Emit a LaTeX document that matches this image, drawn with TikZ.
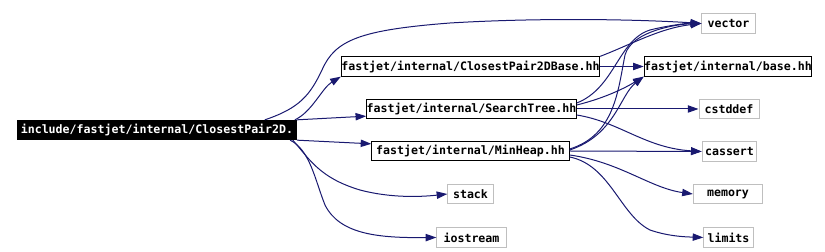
\documentclass[tikz,border=0pt]{standalone}
\usepackage{fontspec}
\setmonofont{DejaVu Sans Mono}
\usetikzlibrary{arrows.meta}
\definecolor{edgeblue}{HTML}{191970}
\definecolor{sysgray}{HTML}{BFBFBF}
\tikzset{
  file/.style={draw, line width=0.75pt, inner sep=0pt, minimum height=14.5pt,
    font=\ttfamily\bfseries\fontsize{8.7}{10}\selectfont},
  rootfile/.style={file, fill=black, text=white},
  incfile/.style={file, draw=black},
  sysfile/.style={file, draw=sysgray},
  dep/.style={draw=edgeblue, line width=0.75pt, -{Triangle[length=8pt,width=5.5pt]}, edgeblue}
}
\begin{document}
\begin{tikzpicture}[x=0.75pt, y=-0.75pt]
\useasboundingbox (0,0) rectangle (825,252);
% the files
\node[rootfile, minimum width=209pt] (root) at (157,130) {include/fastjet/internal/ClosestPair2D.};
\node[incfile, minimum width=191pt] (cpbase) at (470.5,66.5) {fastjet/internal/ClosestPair2DBase.hh};
\node[incfile, minimum width=155pt] (stree) at (471.5,109) {fastjet/internal/SearchTree.hh};
\node[incfile, minimum width=148pt] (minheap) at (470.5,151) {fastjet/internal/MinHeap.hh};
\node[incfile, minimum width=121pt] (base) at (728,66.5) {fastjet/internal/base.hh};
\node[sysfile, minimum width=40pt] (vector) at (728.5,23.5) {vector};
\node[sysfile, minimum width=45pt] (cstddef) at (729,109) {cstddef};
\node[sysfile, minimum width=41pt] (cassert) at (729.5,151.5) {cassert};
\node[sysfile, minimum width=52pt] (memory) at (728,194) {memory};
\node[sysfile, minimum width=37pt] (limits) at (728.5,237.5) {limits};
\node[sysfile, minimum width=34pt] (stack) at (470.5,194) {stack};
\node[sysfile, minimum width=52pt] (iostream) at (471.5,237.5) {iostream};
% includes of the root file
\draw[dep] ([xshift=-24pt]root.north east) .. controls (300,108) and (310,95) .. (322,70)
  .. controls (335,40) and (360,30) .. (450,23) .. controls (550,17) and (650,20) .. (vector.west);
\draw[dep] ([xshift=-1.5pt]root.north east) .. controls (312,112) and (322,88) .. (cpbase.south west);
\draw[dep] (root.north east) -- ([yshift=2.25pt]stree.south west);
\draw[dep] (root.south east) -- ([yshift=-2.25pt]minheap.north west);
\draw[dep] ([xshift=-3pt]root.south east) .. controls (310,160) and (320,178) .. (360,190)
  .. controls (390,198) and (420,197) .. (stack.west);
\draw[dep] ([xshift=-5pt]root.south east) .. controls (310,150) and (315,180) .. (325,205)
  .. controls (340,235) and (380,238) .. (iostream.west);
% includes of the internal headers
\draw[dep] (cpbase.east) -- (base.west);
\draw[dep] (cpbase.north east) .. controls (630,45) and (660,28) .. (vector.west);
\draw[dep] ([yshift=4.5pt]stree.east) .. controls (615,88) and (618,40) .. (650,30)
  .. controls (670,25) and (690,23) .. (vector.west);
\draw[dep] ([yshift=3pt]stree.east) .. controls (605,98) and (625,88) .. (base.south west);
\draw[dep] (stree.east) -- (cstddef.west);
\draw[dep] ([yshift=-4.5pt]stree.east) .. controls (620,122) and (645,148) .. (cassert.west);
\draw[dep] ([yshift=1.5pt]minheap.east) .. controls (615,135) and (618,90) .. (625,55)
  .. controls (632,30) and (680,24) .. (vector.west);
\draw[dep] ([yshift=0.75pt]minheap.east) .. controls (615,135) and (620,95) .. (base.south west);
\draw[dep] (minheap.east) -- (cassert.west);
\draw[dep] ([yshift=-3pt]minheap.east) .. controls (620,162) and (650,188) .. (memory.west);
\draw[dep] ([yshift=-4.5pt]minheap.east) .. controls (610,165) and (620,215) .. (650,230)
  .. controls (670,237) and (690,237) .. (limits.west);
\end{tikzpicture}
\end{document}
